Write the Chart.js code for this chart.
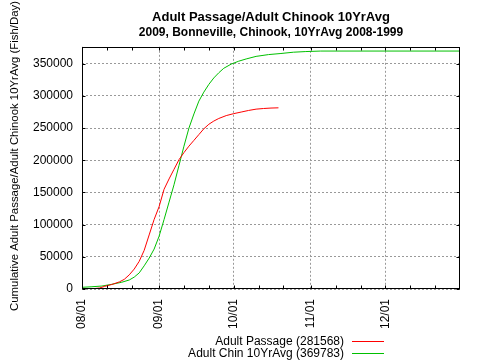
<!DOCTYPE html>
<html><head><meta charset="utf-8">
<script src="https://cdn.jsdelivr.net/npm/chart.js@4"></script>
<style>html,body{margin:0;padding:0;background:#fff;}#wrap{width:480px;height:360px;position:relative;}</style>
</head><body><div id="wrap"><canvas id="c" width="480" height="360"></canvas></div>
<script>
const titleText = "Adult Passage/Adult Chinook 10YrAvg";
const subtitleText = "2009, Bonneville, Chinook, 10YrAvg 2008-1999";
const yAxisTitle = "Cumulative Adult Passage/Adult Chinook 10YrAvg (Fish/Day)";
const seriesNames = ["Adult Passage (281568)", "Adult Chin 10YrAvg (369783)"];
const seriesColors = ["#ff0000", "#00c000"];

// x = days since 08/01
const tickDays = [0, 10, 20, 31, 41, 51, 61, 71, 81, 92, 102, 112, 122, 132, 142];
const tickLabelDays = [0, 31, 61, 92, 122];
const tickLabelTexts = ["08/01", "09/01", "10/01", "11/01", "12/01"];
const yTicks = [0, 50000, 100000, 150000, 200000, 250000, 300000, 350000];

const passageDays = [0, 4, 7, 9, 12, 15, 17, 19, 21, 23, 25, 27, 29, 31, 33, 35, 37, 39, 41, 43, 45, 47, 49, 51, 53, 55, 58, 61, 64, 67, 70, 73, 76, 79];
const passageValues = [0, 300, 1500, 4000, 7000, 11000, 15000, 22000, 31000, 43000, 60000, 84000, 108000, 128000, 155000, 171000, 186000, 201000, 212000, 222000, 231000, 240000, 249000, 256000, 261000, 265000, 269500, 272500, 275000, 277500, 279500, 280500, 281200, 281568];

const avgDays = [0, 4, 8, 12, 16, 19, 21, 23, 25, 27, 29, 31, 33, 35, 37, 39, 41, 43, 45, 47, 49, 51, 53, 55, 57, 60, 63, 66, 70, 75, 80, 85, 90, 96, 152];
const avgValues = [2600, 3500, 4600, 7300, 10500, 14000, 18500, 25000, 36000, 48000, 62000, 82000, 108000, 135000, 162000, 192000, 222000, 250000, 272000, 292000, 306000, 318000, 328000, 336000, 343000, 349500, 354000, 357500, 361500, 364300, 366000, 368000, 369000, 369783, 369783];

const FONT = "'Liberation Sans', Arial, Helvetica, sans-serif";

const frame = {
  id: 'frame',
  afterDraw(chart) {
    const ctx = chart.ctx, a = chart.chartArea;
    const xs = chart.scales.x, ys = chart.scales.y;
    ctx.save();
    ctx.strokeStyle = '#000';
    ctx.lineWidth = 1;
    const L = Math.round(a.left) + 0.5, R = Math.round(a.right) - 0.5;
    const T = Math.round(a.top) + 0.5, B = Math.round(a.bottom) - 0.5;
    ctx.strokeRect(L, T, R - L, B - T);
    ctx.beginPath();
    tickDays.forEach(d => {
      const px = Math.round(xs.getPixelForValue(d)) + 0.5;
      ctx.moveTo(px, B); ctx.lineTo(px, B - 3);
      ctx.moveTo(px, T); ctx.lineTo(px, T + 3);
    });
    yTicks.forEach(v => {
      const py = Math.round(ys.getPixelForValue(v)) + 0.5;
      ctx.moveTo(L, py); ctx.lineTo(L + 3, py);
      ctx.moveTo(R, py); ctx.lineTo(R - 3, py);
    });
    ctx.stroke();
    // y axis title
    ctx.fillStyle = '#000';
    ctx.font = "11.4px " + FONT;
    ctx.textAlign = 'center';
    ctx.textBaseline = 'middle';
    ctx.save();
    ctx.translate(15, 156);
    ctx.rotate(-Math.PI / 2);
    ctx.fillText(yAxisTitle, 0, 0);
    ctx.restore();
    // legend
    ctx.font = "12px " + FONT;
    ctx.textAlign = 'right';
    const ly = [342, 354];
    seriesNames.forEach((n, i) => {
      ctx.fillStyle = '#000';
      ctx.fillText(n, 344, ly[i]);
      ctx.strokeStyle = seriesColors[i];
      ctx.lineWidth = 1;
      ctx.beginPath();
      ctx.moveTo(352, Math.round(ly[i] - 1) + 0.5);
      ctx.lineTo(384, Math.round(ly[i] - 1) + 0.5);
      ctx.stroke();
    });
    ctx.restore();
  }
};

new Chart(document.getElementById('c'), {
  type: 'line',
  data: {
    datasets: [
      { label: seriesNames[0], data: passageDays.map((d, i) => ({x: d, y: passageValues[i]})),
        borderColor: seriesColors[0], borderWidth: 1, pointRadius: 0, tension: 0, fill: false },
      { label: seriesNames[1], data: avgDays.map((d, i) => ({x: d, y: avgValues[i]})),
        borderColor: seriesColors[1], borderWidth: 1, pointRadius: 0, tension: 0, fill: false }
    ]
  },
  options: {
    responsive: false,
    animation: false,
    devicePixelRatio: 1,
    layout: { padding: { left: 0, right: 20, top: 0, bottom: 0 } },
    plugins: {
      legend: { display: false },
      tooltip: { enabled: false },
      title: { display: true, text: titleText, fullSize: false, color: '#000',
        font: { family: FONT, size: 13, weight: 'bold', lineHeight: 1.2 }, padding: { top: 10, bottom: 0 } },
      subtitle: { display: true, text: subtitleText, fullSize: false, color: '#000',
        font: { family: FONT, size: 12, weight: 'bold', lineHeight: 1.1 }, padding: { top: 0, bottom: 8 } }
    },
    scales: {
      x: {
        type: 'linear', min: 0, max: 152,
        afterBuildTicks: s => { s.ticks = tickDays.map(v => ({ value: v })); },
        afterFit: s => { s.height = 71; },
        ticks: {
          autoSkip: false, maxRotation: 90, minRotation: 90, padding: 10, color: '#000',
          font: { family: FONT, size: 12 },
          callback: v => { const i = tickLabelDays.indexOf(v); return i >= 0 ? tickLabelTexts[i] : ''; }
        },
        grid: {
          drawTicks: false,
          color: c => (c.tick && tickLabelDays.indexOf(c.tick.value) >= 0) ? '#999' : 'rgba(0,0,0,0)'
        },
        border: { display: false, dash: [2, 2] }
      },
      y: {
        min: 0, max: 376400,
        afterBuildTicks: s => { s.ticks = yTicks.map(v => ({ value: v })); },
        afterFit: s => { s.width = 82; },
        ticks: { padding: 9, color: '#000', font: { family: FONT, size: 12 }, callback: v => String(v) },
        grid: { drawTicks: false, color: '#999' },
        border: { display: false, dash: [2, 2] }
      }
    }
  },
  plugins: [frame]
});
</script>
</body></html>
